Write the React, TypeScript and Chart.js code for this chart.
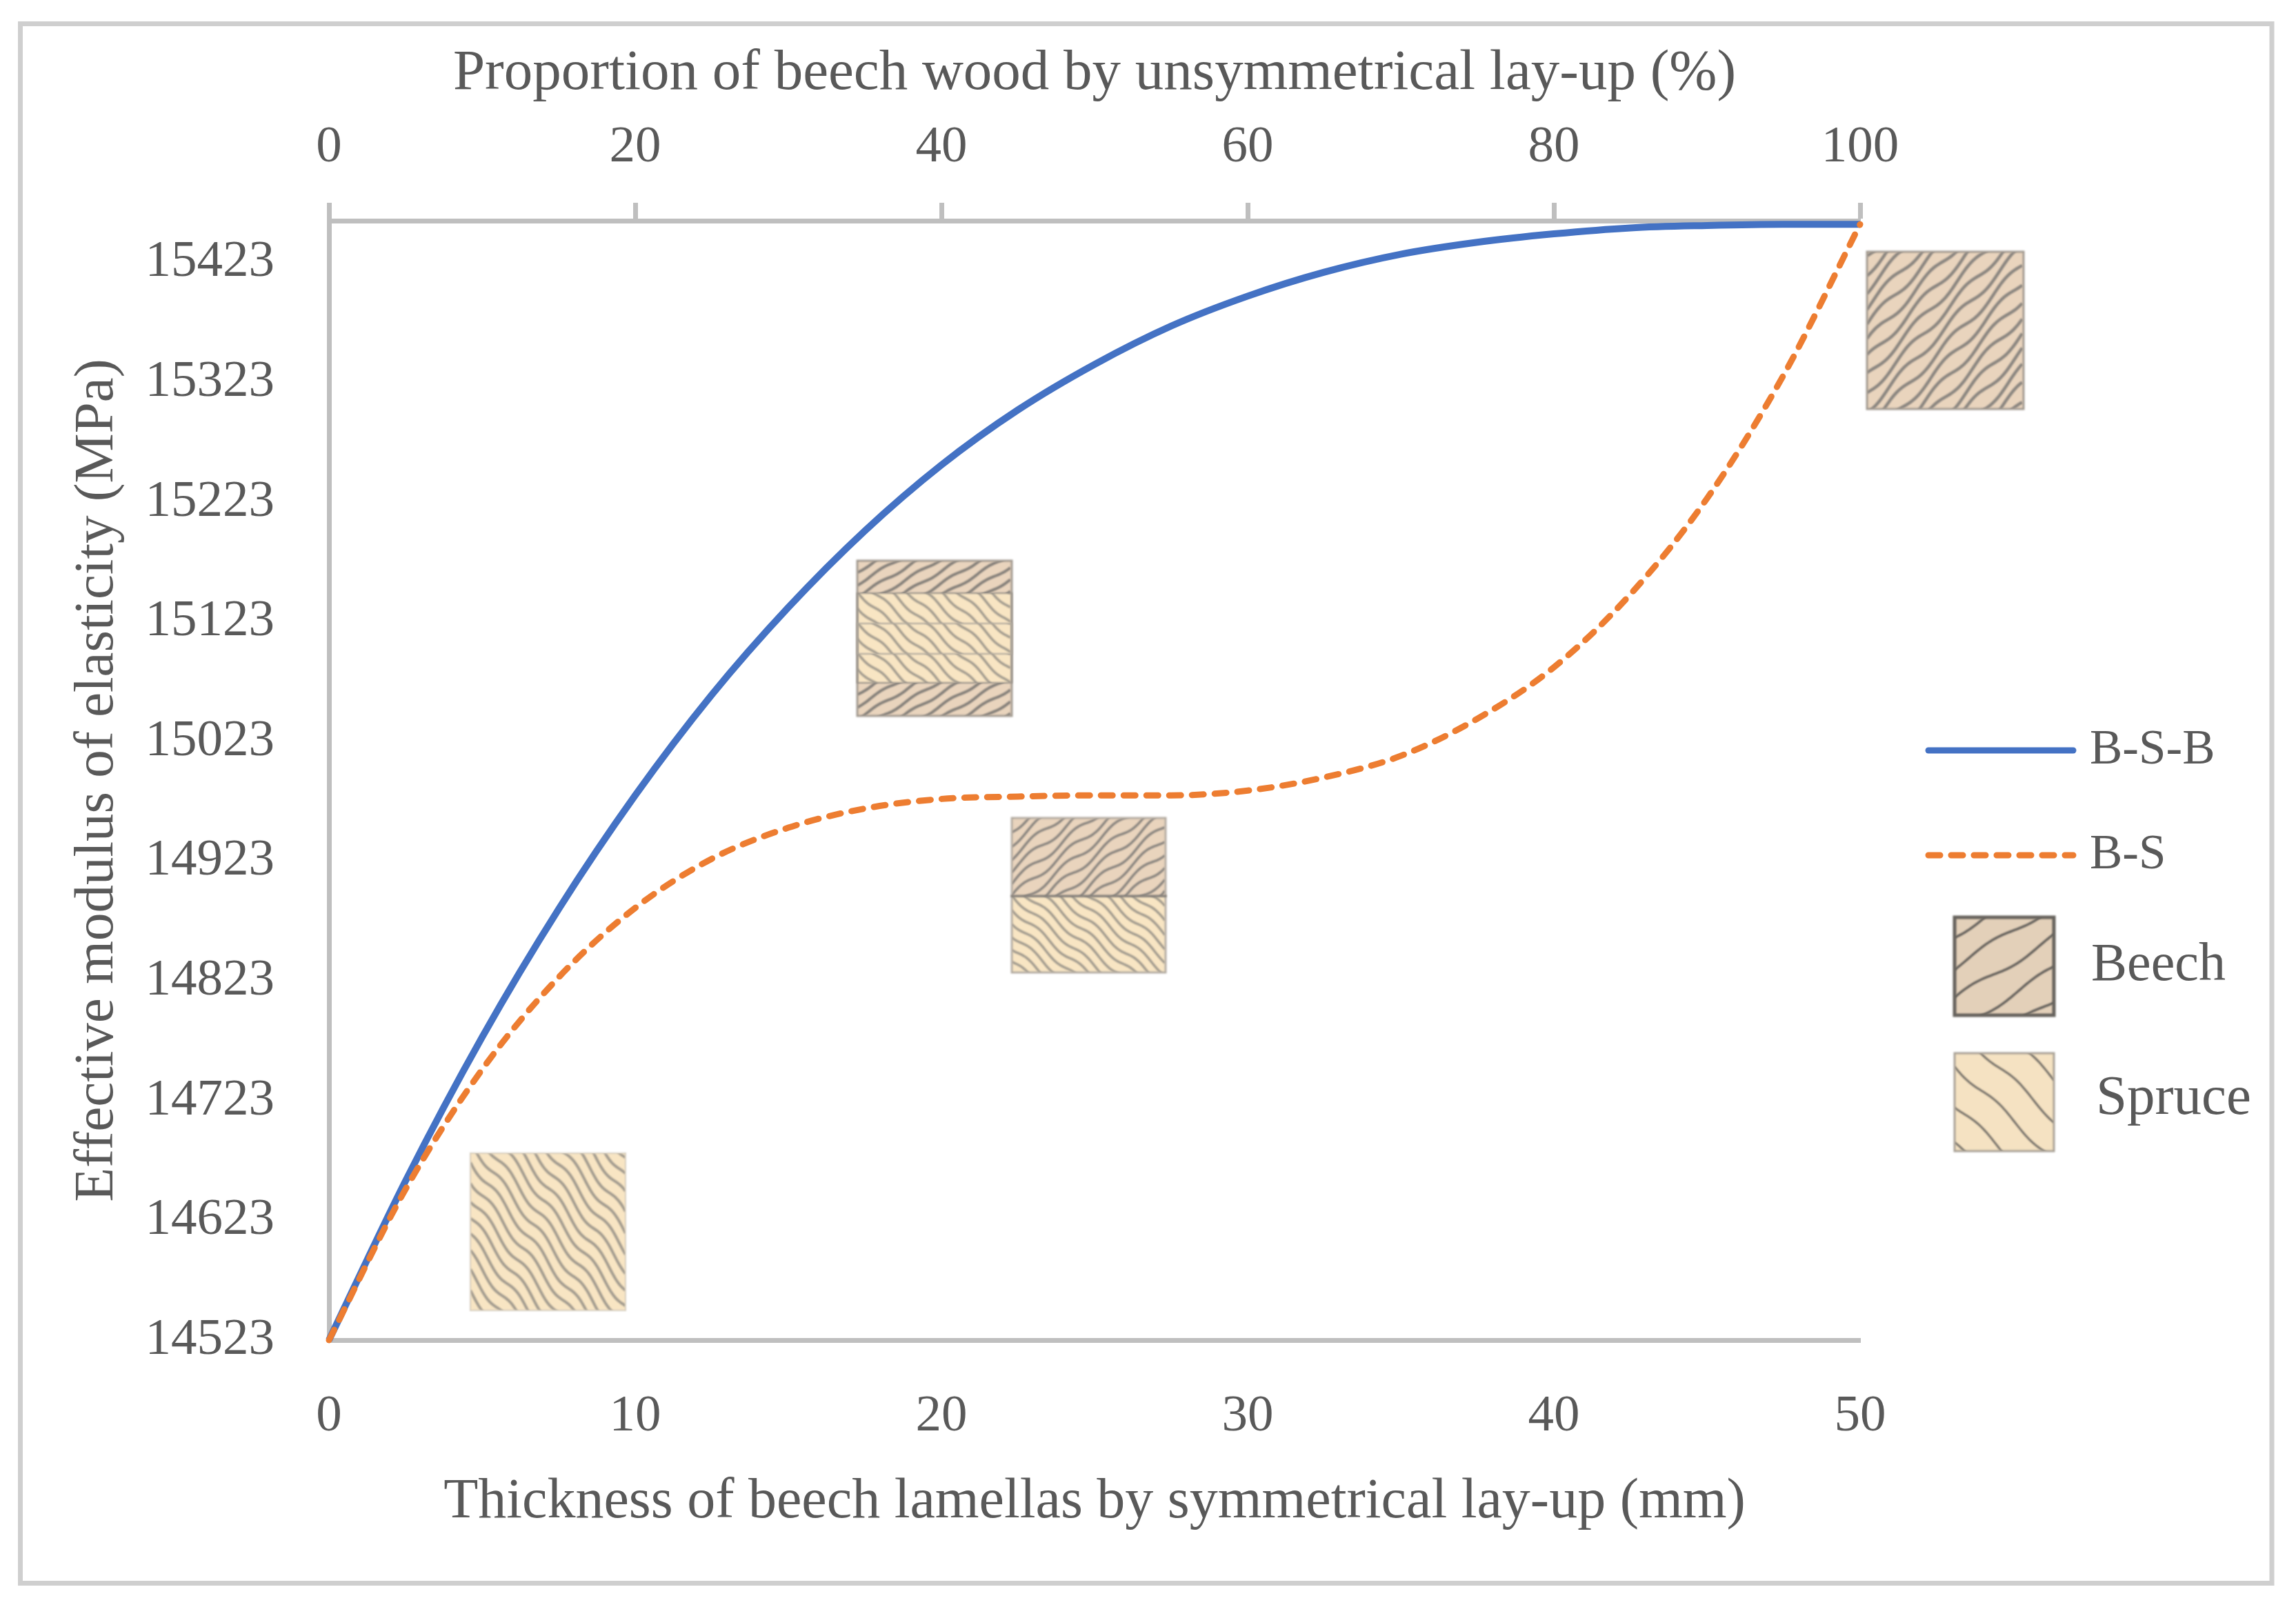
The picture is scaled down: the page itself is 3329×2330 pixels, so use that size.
import React, { useEffect, useRef } from 'react';
import Chart from 'chart.js/auto';

const thickness = [0, 2.5, 5, 7.5, 10, 12.5, 15, 17.5, 20, 22.5, 25, 27.5, 30, 32.5, 35, 37.5, 40, 42.5, 45, 47.5, 50];
const bsb = [14523, 14656, 14776, 14883, 14978, 15062, 15135, 15199, 15254, 15300, 15338, 15370, 15395, 15415, 15430, 15440, 15447, 15452, 15454, 15455, 15455];
const bs = [14523, 14649, 14749, 14826, 14884, 14925, 14951, 14967, 14975, 14977, 14978, 14978, 14982, 14993, 15011, 15042, 15085, 15146, 15226, 15329, 15455];
const yTicks = [14523, 14623, 14723, 14823, 14923, 15023, 15123, 15223, 15323, 15423];

const FONT = '"Liberation Serif", serif';
const TEXT = '#595959';
const AXIS = '#BFBFBF';
const BLUE = '#4472C4';
const ORANGE = '#ED7D31';
const BEECH = '#E9D4BD';
const SPRUCE = '#F8E5C3';

type Grain = { bg: string; dir: number; slope: number; gap: number; amp: number; period: number; lw: number; line: string };

const spruceFine: Grain = { bg: SPRUCE, dir: 1, slope: 1.3, gap: 27, amp: 6, period: 58, lw: 4, line: '#a39c8f' };
const beechFine: Grain = { bg: BEECH, dir: -1, slope: 1.05, gap: 25, amp: 6, period: 80, lw: 4.5, line: '#8b8680' };
const spruceLayer: Grain = { bg: SPRUCE, dir: 1, slope: 0.9, gap: 22, amp: 3, period: 50, lw: 3.5, line: '#a39c8f' };
const beechLayer: Grain = { bg: BEECH, dir: -1, slope: 0.6, gap: 18, amp: 2, period: 60, lw: 4, line: '#85807a' };
const beechHalf: Grain = { bg: BEECH, dir: -1, slope: 0.8, gap: 19, amp: 5, period: 70, lw: 3.5, line: '#8b8680' };
const spruceHalf: Grain = { bg: SPRUCE, dir: 1, slope: 0.85, gap: 19, amp: 4, period: 60, lw: 3.5, line: '#a39c8f' };
const beechKey: Grain = { bg: '#E3D0B9', dir: -1, slope: 0.62, gap: 46, amp: 5, period: 130, lw: 3.5, line: '#66625d' };
const spruceKey: Grain = { bg: '#F5E2C2', dir: 1, slope: 0.95, gap: 58, amp: 5, period: 95, lw: 3, line: '#77726a' };

function wood(ctx: CanvasRenderingContext2D, x: number, y: number, w: number, h: number, g: Grain) {
  ctx.save();
  ctx.beginPath();
  ctx.rect(x, y, w, h);
  ctx.clip();
  ctx.fillStyle = g.bg;
  ctx.fillRect(x, y, w, h);
  ctx.strokeStyle = g.line;
  ctx.lineWidth = g.lw;
  ctx.filter = 'blur(0.8px)';
  const run = g.slope * w;
  const start = g.dir > 0 ? -run - 20 : -20;
  const end = g.dir > 0 ? h + 20 : h + run + 20;
  for (let c = start; c < end; c += g.gap) {
    ctx.beginPath();
    for (let sx = 0; sx <= w; sx += 3) {
      const py = c + g.dir * g.slope * sx + g.amp * Math.sin((2 * Math.PI * sx) / g.period + c * 0.03);
      if (sx === 0) ctx.moveTo(x + sx, y + py);
      else ctx.lineTo(x + sx, y + py);
    }
    ctx.stroke();
  }
  ctx.restore();
}

function outline(ctx: CanvasRenderingContext2D, x: number, y: number, w: number, h: number, color: string, lw: number) {
  ctx.save();
  ctx.strokeStyle = color;
  ctx.lineWidth = lw;
  ctx.filter = 'blur(0.8px)';
  ctx.strokeRect(x, y, w, h);
  ctx.restore();
}

const decorations = {
  id: 'decorations',
  beforeDraw(chart: any) {
    const ctx = chart.ctx;
    ctx.save();
    ctx.fillStyle = '#ffffff';
    ctx.fillRect(0, 0, chart.width, chart.height);
    ctx.strokeStyle = '#CFCFCF';
    ctx.lineWidth = 7;
    ctx.strokeRect(29.5, 34.5, 3264.5, 2261);
    ctx.restore();
  },
  afterDraw(chart: any) {
    const ctx = chart.ctx;
    ctx.save();

    // cross-section pictures next to the curves
    wood(ctx, 682, 1672, 225, 228, spruceFine);
    outline(ctx, 682, 1672, 225, 228, '#d8d0c0', 2);

    wood(ctx, 2707, 365, 227, 228, beechFine);
    outline(ctx, 2707, 365, 227, 228, '#a39b92', 3);

    wood(ctx, 1243, 813, 224, 47, beechLayer);
    wood(ctx, 1243, 860, 224, 44, spruceLayer);
    wood(ctx, 1243, 904, 224, 44, spruceLayer);
    wood(ctx, 1243, 948, 224, 42, spruceLayer);
    wood(ctx, 1243, 990, 224, 48, beechLayer);
    outline(ctx, 1243, 813, 224, 225, '#a39b92', 3);
    outline(ctx, 1243, 860, 224, 130, '#99928a', 2);
    outline(ctx, 1243, 904, 224, 44, '#b0a99d', 2);

    wood(ctx, 1467, 1186, 223, 113, beechHalf);
    wood(ctx, 1467, 1299, 223, 111, spruceHalf);
    outline(ctx, 1467, 1186, 223, 224, '#b5aea4', 3);
    outline(ctx, 1467, 1299, 223, 0.5, '#85807a', 3);

    // legend
    ctx.lineCap = 'round';
    ctx.lineWidth = 9;
    ctx.strokeStyle = BLUE;
    ctx.beginPath();
    ctx.moveTo(2796, 1088);
    ctx.lineTo(3006, 1088);
    ctx.stroke();
    ctx.strokeStyle = ORANGE;
    ctx.setLineDash([17, 16]);
    ctx.beginPath();
    ctx.moveTo(2796, 1240);
    ctx.lineTo(3006, 1240);
    ctx.stroke();
    ctx.setLineDash([]);
    ctx.lineCap = 'butt';

    wood(ctx, 2834, 1330, 144, 142, beechKey);
    outline(ctx, 2834, 1330, 144, 142, '#66625d', 5);
    wood(ctx, 2834, 1527, 144, 142, spruceKey);
    outline(ctx, 2834, 1527, 144, 142, '#a9a297', 3);

    ctx.fillStyle = TEXT;
    ctx.textAlign = 'left';
    ctx.textBaseline = 'middle';
    ctx.font = `71px ${FONT}`;
    ctx.fillText('B-S-B', 3030, 1088);
    ctx.fillText('B-S', 3030, 1240);
    ctx.font = `78px ${FONT}`;
    ctx.fillText('Beech', 3032, 1401);
    ctx.font = `81px ${FONT}`;
    ctx.fillText('Spruce', 3039, 1594);
    ctx.restore();
  },
};

const App: React.FC = () => {
  const chartRef = useRef<HTMLCanvasElement | null>(null);

  useEffect(() => {
    if (!chartRef.current) return;
    const tickFont = { family: FONT, size: 75 };
    const chart = new Chart(chartRef.current, {
      type: 'line',
      data: {
        datasets: [
          {
            label: 'B-S',
            data: thickness.map((x, i) => ({ x, y: bs[i] })),
            borderColor: ORANGE,
            borderWidth: 9,
            borderDash: [17, 16],
            borderCapStyle: 'round',
            cubicInterpolationMode: 'monotone',
            pointRadius: 0,
            clip: false,
            order: 0,
          },
          {
            label: 'B-S-B',
            data: thickness.map((x, i) => ({ x, y: bsb[i] })),
            borderColor: BLUE,
            borderWidth: 10,
            cubicInterpolationMode: 'monotone',
            pointRadius: 0,
            clip: false,
            order: 1,
          },
        ],
      },
      options: {
        responsive: false,
        devicePixelRatio: 1,
        animation: false,
        layout: { padding: { top: 0, left: 0, right: 632, bottom: 87 } },
        plugins: { legend: { display: false }, tooltip: { enabled: false } },
        scales: {
          x: {
            type: 'linear',
            position: 'bottom',
            min: 0,
            max: 50,
            afterFit: (s: any) => { s.height = 300; },
            ticks: { stepSize: 10, padding: 58, color: TEXT, font: tickFont, maxRotation: 0 },
            grid: { display: false },
            border: { color: AXIS, width: 7 },
            title: {
              display: true,
              text: 'Thickness of beech lamellas by symmetrical lay-up (mm)',
              color: TEXT,
              font: { family: FONT, size: 82 },
              padding: { top: 0, bottom: 15 },
            },
          },
          x2: {
            type: 'linear',
            position: 'top',
            min: 0,
            max: 100,
            afterFit: (s: any) => { s.height = 320; },
            ticks: { stepSize: 20, padding: 35, color: TEXT, font: tickFont, maxRotation: 0 },
            grid: { display: true, drawOnChartArea: false, drawTicks: true, tickLength: 26, tickWidth: 7, tickColor: AXIS },
            border: { color: AXIS, width: 7 },
            title: {
              display: true,
              text: 'Proportion of beech wood by unsymmetrical lay-up (%)',
              color: TEXT,
              font: { family: FONT, size: 83 },
              padding: { top: 57, bottom: 0 },
            },
          },
          y: {
            type: 'linear',
            min: 14523,
            max: 15458,
            afterFit: (s: any) => { s.width = 477; },
            afterBuildTicks: (s: any) => { s.ticks = yTicks.map((value) => ({ value })); },
            ticks: { padding: 71, color: TEXT, font: tickFont, autoSkip: false, callback: (v: any) => String(v) },
            grid: { display: false },
            border: { color: AXIS, width: 7 },
            title: {
              display: true,
              text: 'Effective modulus of elasticity (MPa)',
              color: TEXT,
              font: { family: FONT, size: 81 },
              padding: { top: 93, bottom: 0 },
            },
          },
        },
      },
      plugins: [decorations],
    } as any);

    return () => {
      chart.destroy();
    };
  }, []);

  return (
    <div style={{ position: 'absolute', left: 0, top: 0, width: 3329, height: 2330, background: '#fff' }}>
      <canvas ref={chartRef} width={3329} height={2330} style={{ display: 'block', width: 3329, height: 2330 }} />
    </div>
  );
};

export default App;
